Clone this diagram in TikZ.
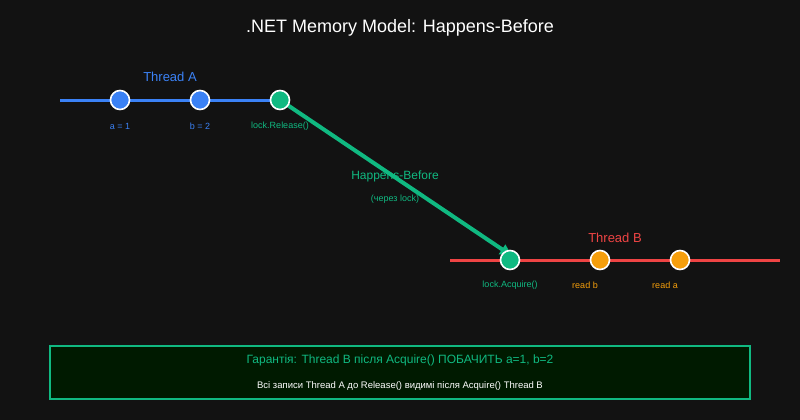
\documentclass[tikz,border=0pt]{standalone}
\usepackage{fontspec}
\setmainfont{Liberation Sans}
\usetikzlibrary{arrows.meta}
\definecolor{bg}{HTML}{121212}
\definecolor{cblue}{HTML}{3B82F6}
\definecolor{cgreen}{HTML}{10B981}
\definecolor{cred}{HTML}{EF4444}
\definecolor{corange}{HTML}{F59E0B}
\definecolor{boxfill}{HTML}{001A00}
\begin{document}
\begin{tikzpicture}[x=1pt,y=-1pt,
  ev/.style={circle,draw=white,line width=1.6pt,minimum size=19pt,inner sep=0pt},
  lbl/.style={font=\fontsize{9}{10}\selectfont},
  ttl/.style={font=\fontsize{13}{15}\selectfont}]
\fill[bg] (0,0) rectangle (800,420);
\useasboundingbox (0,0) rectangle (800,420);
\node[white,font=\fontsize{18}{20}\selectfont] (title) at (400,28) {.NET Memory Model: Happens-Before};
% Thread A
\coordinate (al) at (60,100); \coordinate (ar) at (280,100);
\draw[cblue,line width=3pt] (al) -- (ar);
\node[ttl,cblue] (ta) at (170,77) {Thread A};
% Thread B
\coordinate (bl) at (450,260); \coordinate (br) at (780,260);
\draw[cred,line width=3pt] (bl) -- (br);
\node[ttl,cred] (tb) at (615,238) {Thread B};
% arrow
\coordinate (hs) at (280,100); \coordinate (he) at (512,256);
\draw[cgreen,line width=4pt,-{Triangle[length=12pt,width=11pt]}] (hs) -- (he);
\node[cgreen,font=\fontsize{12}{14}\selectfont] (hb) at (395,176) {Happens-Before};
\node[cgreen,font=\fontsize{9}{10}\selectfont] (hl) at (395,199) {(через lock)};
% events
\node[ev,fill=cblue] (a1) at (120,100) {};
\node[ev,fill=cblue] (a2) at (200,100) {};
\node[ev,fill=cgreen] (rel) at (280,100) {};
\node[ev,fill=cgreen] (acq) at (510,260) {};
\node[ev,fill=corange] (rb) at (600,260) {};
\node[ev,fill=corange] (ra) at (680,260) {};
\node[lbl,cblue] (la1) at (120,126) {a = 1};
\node[lbl,cblue] (la2) at (200,126) {b = 2};
\node[lbl,cgreen] (lrel) at (280,126) {lock.Release()};
\node[lbl,cgreen] (lacq) at (510,285) {lock.Acquire()};
\node[lbl,corange] (lrb) at (585,285) {read b};
\node[lbl,corange] (lra) at (665,285) {read a};
% box
\draw[cgreen,fill=boxfill,line width=2pt] (50,346) rectangle (750,399);
\node[cgreen,font=\fontsize{12}{14}\selectfont] (g1) at (400,360) {Гарантія: Thread B після Acquire() ПОБАЧИТЬ a=1, b=2};
\node[white,font=\fontsize{9.5}{11}\selectfont] (g2) at (400,386) {Всі записи Thread A до Release() видимі після Acquire() Thread B};
\end{tikzpicture}
\end{document}
